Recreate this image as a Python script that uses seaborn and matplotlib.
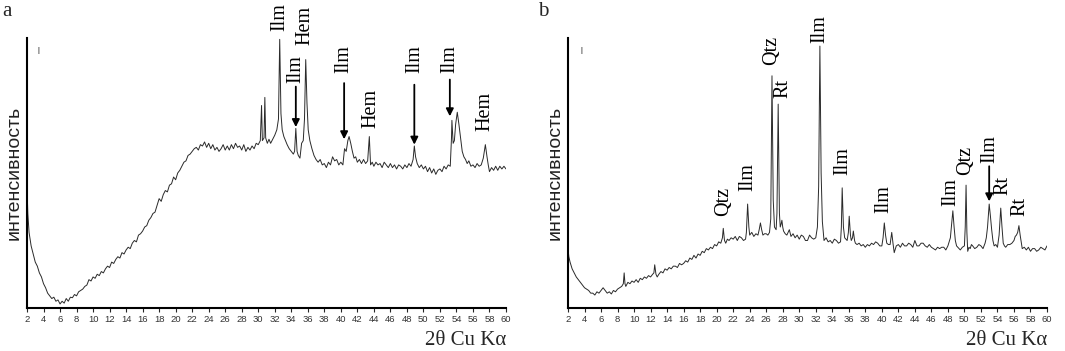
import numpy as np
import pandas as pd
import matplotlib
matplotlib.use('Agg')
import matplotlib.pyplot as plt
import seaborn as sns

## ============================================================
## scans: (2theta, intensity in % of axis height)

a_scan = [(2.0, 45), (2.1, 35), (2.25, 28), (2.5, 23), (2.75, 20), (3.0, 17), (3.25, 15.5),
	(3.5, 13), (3.75, 11.5), (4.0, 9), (4.25, 7.5), (4.5, 5.5), (4.75, 4.5), (5.0, 3.5),
	(5.25, 4), (5.5, 2.5), (5.75, 3), (6.0, 1.5), (6.25, 2.5), (6.5, 1.8), (6.75, 3.5),
	(7.0, 2.5), (7.25, 4), (7.5, 3.8), (7.75, 5), (8.0, 4.5), (8.25, 6), (8.5, 6.5),
	(8.75, 7), (9.0, 8), (9.25, 8.5), (9.5, 10.5), (9.75, 10), (10.0, 11.5), (10.25, 11),
	(10.5, 12.5), (10.75, 12), (11.0, 13.5), (11.25, 13), (11.5, 14.5), (11.75, 15.5),
	(12.0, 15), (12.25, 17), (12.5, 16.5), (12.75, 18), (13.0, 19), (13.25, 18.5),
	(13.5, 20.5), (13.75, 20), (14.0, 21.5), (14.25, 22.5), (14.5, 22), (14.75, 24),
	(15.0, 25), (15.25, 24.5), (15.5, 27), (15.75, 27.5), (16.0, 28.5), (16.25, 30),
	(16.5, 30.5), (16.75, 32.5), (17.0, 33.5), (17.25, 35), (17.5, 35.5), (17.75, 38),
	(18.0, 40.5), (18.25, 39.5), (18.5, 42), (18.75, 43.5), (19.0, 43), (19.25, 45.5),
	(19.5, 46), (19.75, 48.5), (20.0, 47.5), (20.25, 50), (20.5, 51), (20.75, 52.5),
	(21.0, 54), (21.25, 54.5), (21.5, 56.5), (21.75, 57), (22.0, 58), (22.25, 59),
	(22.5, 59.5), (22.75, 58.5), (23.0, 60.5), (23.25, 60), (23.5, 61.5), (23.75, 59.5),
	(24.0, 61), (24.25, 59), (24.5, 60.5), (24.75, 58.5), (25.0, 59.5), (25.25, 58),
	(25.5, 59), (25.75, 60.5), (26.0, 58.5), (26.25, 60), (26.5, 58.5), (26.75, 60.5),
	(27.0, 59), (27.25, 61), (27.5, 59.5), (27.75, 60), (28.0, 58.5), (28.25, 60.5),
	(28.5, 58), (28.75, 59.5), (29.0, 58.5), (29.25, 60), (29.5, 59), (29.75, 61),
	(30.0, 60.5), (30.25, 62), (30.4, 75), (30.5, 62), (30.7, 63), (30.8, 78), (30.9, 63),
	(31.1, 61), (31.3, 62.5), (31.5, 61), (31.75, 62.5), (32.0, 64), (32.25, 66),
	(32.45, 70), (32.6, 99.5), (32.75, 72), (32.9, 66), (33.1, 63.5), (33.3, 62),
	(33.5, 60.5), (33.75, 59), (34.0, 58), (34.25, 57), (34.4, 58), (34.55, 66.5),
	(34.7, 58), (34.85, 56.5), (35.05, 55.5), (35.25, 61), (35.45, 62), (35.6, 70),
	(35.75, 92), (35.9, 76), (36.05, 66), (36.25, 62), (36.5, 59), (36.75, 56.5),
	(37.0, 55), (37.25, 54), (37.5, 55), (37.75, 53), (38.0, 53.5), (38.25, 52),
	(38.5, 54), (38.75, 53), (39.0, 56), (39.25, 54.5), (39.5, 55), (39.75, 53),
	(40.0, 54), (40.25, 53), (40.45, 59), (40.65, 58), (40.85, 62), (41.0, 63.5),
	(41.2, 61), (41.4, 58), (41.6, 55.5), (41.8, 56), (42.0, 54), (42.25, 55),
	(42.5, 53.5), (42.75, 55), (43.0, 53.5), (43.25, 54.5), (43.45, 63.5), (43.6, 53),
	(43.8, 54), (44.0, 52.5), (44.25, 54), (44.5, 53), (44.75, 53.5), (45.0, 52),
	(45.25, 54), (45.5, 53), (45.75, 52), (46.0, 53.5), (46.25, 52), (46.5, 53),
	(46.75, 51.5), (47.0, 53), (47.25, 52.5), (47.5, 51.5), (47.75, 53), (48.0, 52),
	(48.25, 53.5), (48.5, 52.5), (48.75, 55), (48.9, 60), (49.05, 56), (49.25, 53.5),
	(49.5, 52), (49.75, 53), (50.0, 51.5), (50.25, 52.5), (50.5, 50.5), (50.75, 52),
	(51.0, 50), (51.25, 51.5), (51.5, 49.5), (51.75, 51), (52.0, 51.5), (52.25, 50.5),
	(52.5, 52.5), (52.75, 51.5), (53.0, 53), (53.25, 52.5), (53.4, 63), (53.45, 69.5),
	(53.6, 61), (53.75, 62), (53.9, 68), (54.1, 72.5), (54.3, 68), (54.5, 63),
	(54.7, 58), (54.9, 56), (55.1, 55), (55.3, 53.5), (55.5, 54.5), (55.75, 52.5),
	(56.0, 53), (56.25, 52), (56.5, 53.5), (56.75, 52.5), (57.0, 53), (57.25, 55.5),
	(57.5, 60.5), (57.7, 56), (57.85, 53), (58.0, 50.5), (58.25, 52), (58.5, 51),
	(58.75, 52.5), (59.0, 51), (59.25, 52.5), (59.5, 51.5), (59.75, 52.5), (60.0, 51.5)]

b_scan = [(2.0, 22), (2.1, 19), (2.25, 17), (2.5, 14.5), (2.75, 13), (3.0, 11.5),
	(3.25, 10.5), (3.5, 9.5), (3.75, 8.5), (4.0, 7.5), (4.25, 7), (4.5, 6.5), (4.75, 5.5),
	(5.0, 5.5), (5.25, 4.8), (5.5, 6), (5.75, 5.5), (6.0, 6.5), (6.25, 7.5), (6.5, 6.5),
	(6.75, 5.5), (7.0, 6), (7.25, 5.2), (7.5, 6.5), (7.75, 6), (8.0, 7), (8.25, 7.5),
	(8.5, 8), (8.7, 9), (8.8, 13), (8.9, 9), (9.0, 8), (9.25, 9.5), (9.5, 9), (9.75, 10),
	(10.0, 9.5), (10.25, 10.5), (10.5, 9.5), (10.75, 11), (11.0, 10.5), (11.25, 11.5),
	(11.5, 11), (11.75, 12), (12.0, 11.5), (12.25, 12.5), (12.4, 13), (12.5, 16),
	(12.65, 12.5), (12.8, 11.5), (13.0, 12.5), (13.25, 13.5), (13.5, 13), (13.75, 14.5),
	(14.0, 14), (14.25, 15), (14.5, 14.5), (14.75, 15.5), (15.0, 15.5), (15.25, 15),
	(15.5, 16.5), (15.75, 16), (16.0, 16.5), (16.25, 17.5), (16.5, 17), (16.75, 18.5),
	(17.0, 18), (17.25, 19.5), (17.5, 18.5), (17.75, 20), (18.0, 19.5), (18.25, 21),
	(18.5, 20.5), (18.75, 22), (19.0, 21.5), (19.25, 22.5), (19.5, 22), (19.75, 23.5),
	(20.0, 23), (20.25, 24.5), (20.5, 24), (20.7, 26), (20.8, 29.5), (20.95, 25),
	(21.1, 24), (21.3, 25.5), (21.5, 25), (21.75, 26), (22.0, 25.5), (22.25, 26.5),
	(22.5, 25), (22.75, 26.5), (23.0, 26), (23.25, 25), (23.5, 25.5), (23.6, 28),
	(23.75, 38.5), (23.9, 30), (24.0, 27), (24.25, 28), (24.5, 26.5), (24.75, 27.5),
	(25.0, 27), (25.15, 29), (25.3, 31.5), (25.45, 29), (25.6, 27), (25.8, 27.5),
	(26.0, 27.5), (26.2, 27), (26.4, 28), (26.55, 33), (26.7, 86), (26.85, 40),
	(27.0, 30), (27.2, 29), (27.3, 35), (27.45, 75.5), (27.6, 35), (27.7, 30), (27.8, 31),
	(27.9, 32.5), (28.0, 30), (28.1, 28.5), (28.3, 27.5), (28.5, 27), (28.65, 28),
	(28.8, 29), (29.0, 26.5), (29.25, 27.5), (29.5, 26), (29.75, 27), (30.0, 25.5),
	(30.25, 27), (30.5, 26.5), (30.75, 25), (31.0, 25), (31.25, 27), (31.5, 26),
	(31.75, 25.5), (32.0, 26), (32.2, 30), (32.35, 45), (32.5, 97), (32.65, 50),
	(32.8, 32), (33.0, 25), (33.25, 26), (33.5, 24.5), (33.75, 25), (34.0, 24),
	(34.25, 25.5), (34.5, 25), (34.75, 24), (35.0, 24.5), (35.1, 30), (35.2, 44.5),
	(35.35, 30), (35.5, 26), (35.8, 25), (35.95, 28), (36.05, 34), (36.2, 27), (36.3, 25),
	(36.45, 26), (36.55, 28.5), (36.7, 25), (36.8, 24), (37.0, 23.5), (37.25, 24),
	(37.5, 23), (37.75, 23.5), (38.0, 22.5), (38.25, 23.5), (38.5, 23), (38.75, 24),
	(39.0, 23.5), (39.25, 24.5), (39.5, 24), (39.75, 23), (40.0, 23), (40.15, 26),
	(40.3, 31.5), (40.45, 27), (40.6, 24), (40.8, 23.5), (41.0, 23.5), (41.2, 28),
	(41.35, 24), (41.5, 20.5), (41.75, 23), (42.0, 23.5), (42.25, 22.5), (42.5, 24),
	(42.75, 23), (43.0, 23), (43.25, 24), (43.5, 23.5), (43.75, 22.5), (44.0, 25),
	(44.25, 23), (44.5, 23), (44.75, 24), (45.0, 24), (45.25, 23), (45.5, 22.5),
	(45.75, 23.5), (46.0, 22.5), (46.25, 22), (46.5, 21.5), (46.75, 22.5), (47.0, 22),
	(47.25, 22.5), (47.5, 22.5), (47.75, 21.5), (48.0, 23), (48.3, 26), (48.45, 31),
	(48.6, 36), (48.75, 30), (48.9, 25), (49.05, 23), (49.2, 22.5), (49.5, 21.5),
	(49.75, 22.5), (50.0, 23), (50.1, 30), (50.2, 45.5), (50.3, 28), (50.4, 21),
	(50.55, 22.5), (50.7, 22), (50.85, 23.5), (51.0, 23), (51.25, 22), (51.5, 22.5),
	(51.75, 23.5), (52.0, 23), (52.25, 22), (52.5, 24), (52.65, 26), (52.8, 30),
	(53.0, 38.5), (53.15, 34), (53.3, 29), (53.45, 25), (53.6, 23), (53.8, 23.5),
	(54.0, 22.5), (54.2, 27), (54.4, 37), (54.55, 30), (54.7, 24), (54.85, 23),
	(55.0, 22.5), (55.25, 23.5), (55.5, 23.5), (55.75, 24), (56.0, 25), (56.15, 26.5),
	(56.3, 27), (56.45, 28), (56.6, 30.5), (56.75, 27), (56.9, 24), (57.0, 22),
	(57.25, 22.5), (57.5, 21.5), (57.75, 22.5), (58.0, 21), (58.25, 22), (58.5, 22),
	(58.75, 21), (59.0, 21.5), (59.25, 22.5), (59.5, 22), (59.75, 21.5), (60.0, 23)]

# phase labels: name, 2theta, height of the lower end of the text
a_labels = ['Ilm', 'Hem', 'Ilm', 'Ilm', 'Hem', 'Ilm', 'Ilm', 'Hem']
a_label_x = [32.6, 35.7, 34.5, 40.4, 43.6, 48.9, 53.25, 57.5]
a_label_y = [102.5, 97.5, 83.5, 87, 66.5, 87, 87, 65.5]
a_arrow_x = [34.55, 40.4, 48.9, 53.2]
a_arrow_top = [82, 83.3, 82.7, 84.6]
a_arrow_tip = [67, 62.5, 60.5, 71]

b_labels = ['Qtz', 'Ilm', 'Qtz', 'Rt', 'Ilm', 'Ilm', 'Ilm', 'Ilm', 'Qtz', 'Ilm', 'Rt', 'Rt']
b_label_x = [20.8, 23.8, 26.7, 28.0, 32.5, 35.3, 40.3, 48.4, 50.2, 53.05, 54.7, 56.7]
b_label_y = [34, 43.2, 90, 77.8, 98, 49.4, 35.2, 37.7, 49.4, 53.7, 42, 34]
b_arrow_x = [53.0]
b_arrow_top = [52.5]
b_arrow_tip = [39.5]

ticks = list(range(2, 61, 2))

## ============================================================

sns.set_style('white')
plt.rcParams['font.family'] = ['Liberation Sans', 'DejaVu Sans']

fig = plt.figure(figsize=(10.65, 3.51), dpi=100)
ax_a = fig.add_axes([27/1065, 43/351, 479/1065, 270/351])
ax_b = fig.add_axes([568/1065, 43/351, 479/1065, 270/351])

panels = [
	(ax_a, a_scan, a_labels, a_label_x, a_label_y, a_arrow_x, a_arrow_top, a_arrow_tip, 0.023),
	(ax_b, b_scan, b_labels, b_label_x, b_label_y, b_arrow_x, b_arrow_top, b_arrow_tip, 0.027),
]

serif = ['Liberation Serif', 'DejaVu Serif']

for ax, scan, labs, lx, ly, arx, art, arp, mark_x in panels:
	df = pd.DataFrame(scan, columns=['theta', 'counts'])
	sns.lineplot(data=df, x='theta', y='counts', ax=ax, color='#2a2a2a', lw=0.7,
			estimator=None, sort=False)
	ax.set_xlim(2, 60)
	ax.set_ylim(0, 100)
	ax.set_xticks(ticks)
	ax.set_xticklabels([str(t) for t in ticks])
	ax.set_yticks([])
	ax.tick_params(axis='x', direction='out', length=3, width=0.8, pad=2,
			labelsize=6.8, labelcolor='#333333', bottom=True)
	ax.set_ylabel('интенсивность', fontsize=14, color='#222222', labelpad=3)
	ax.set_xlabel('2θ Cu Kα', fontsize=15, family=serif, loc='right', labelpad=5)
	for lab, x, y in zip(labs, lx, ly):
		ax.text(x, y, lab, rotation=90, ha='center', va='bottom', fontsize=14.5,
				family=serif, color='black', clip_on=False)
	for x, y0, y1 in zip(arx, art, arp):
		ax.annotate('', xy=(x, y1), xytext=(x, y0),
				arrowprops=dict(arrowstyle='-|>', color='black', lw=1.3,
						mutation_scale=11, shrinkA=0, shrinkB=0))
	ax.text(mark_x, 0.955, '|', transform=ax.transAxes, ha='center', va='center',
			fontsize=5, color='black')
	sns.despine(ax=ax, top=True, right=True)
	for s in ['left', 'bottom']:
		ax.spines[s].set_linewidth(1.5)
		ax.spines[s].set_color('black')
	ax.patch.set_alpha(0)

fig.text(2/1065, 1 - 12/351, 'a', fontsize=15, family=serif, ha='left', va='center')
fig.text(538/1065, 1 - 12/351, 'b', fontsize=15, family=serif, ha='left', va='center')

fig.savefig('out.png', dpi=100)
